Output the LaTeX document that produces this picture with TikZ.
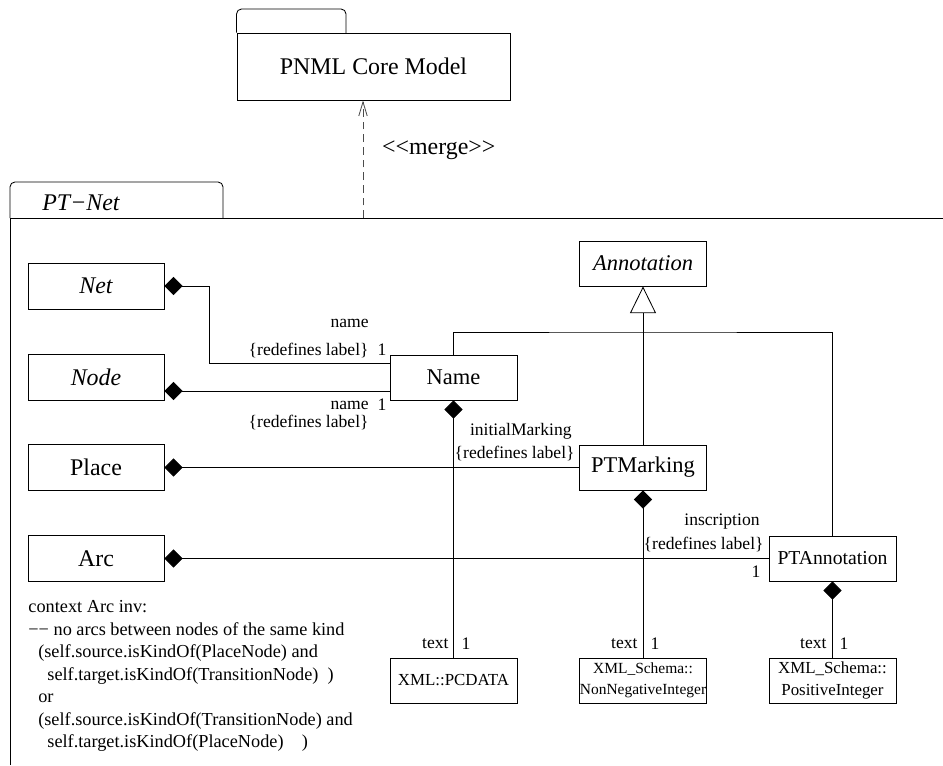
\documentclass[tikz,border=0pt]{standalone}
\usepackage{fontspec}
\setmainfont{Liberation Serif}
\usetikzlibrary{arrows.meta}

\tikzset{
  umlwide/.style={draw, minimum width=3.4cm, minimum height=1.15cm, inner sep=0pt, font=\fontsize{17pt}{20pt}\selectfont},
  umlbox/.style={draw, minimum width=3.175cm, minimum height=1.125cm, inner sep=0pt, font=\fontsize{16pt}{19pt}\selectfont},
  typebox/.style={umlbox, align=center, font=\fontsize{12pt}{15pt}\selectfont},
  role/.style={inner sep=0pt, font=\fontsize{12.5pt}{14pt}\selectfont},
  comp/.style={arrows={Diamond[length=13pt,width=13pt]-}},
  gen/.style={arrows={-Triangle[open,length=19pt,width=18.5pt]}},
}

\begin{document}
\begin{tikzpicture}[x=0.025cm, y=-0.025cm, line width=0.6pt]
\useasboundingbox (0,0) rectangle (943,765);

% imported package
\node (core) at (373.5,66.5) [draw, minimum width=6.825cm, minimum height=1.675cm, font=\fontsize{17pt}{20pt}\selectfont] {PNML Core Model};
\draw [rounded corners=3.5pt] (core.north west) |- (346,9) -- (346,33);

% package PT-Net
\node (ptnet) at (81,203) [font=\fontsize{17pt}{20pt}\selectfont\itshape] {PT−Net};
\draw (10,765) -- (10,218) -- (943,218);
\draw [rounded corners=3.5pt] (10,218) |- (223,182) -- (223,218);

\coordinate (mergefoot) at (363,218);
\draw [dash pattern=on 5.5pt off 3.5pt, black!70, arrows={-Straight Barb[length=10pt,width=6pt]}] (mergefoot) -- (mergefoot |- core.south);
\node (merge) at (377,150) [anchor=west, font=\fontsize{17pt}{20pt}\selectfont] {<\kern0pt<merge>\kern0pt>};

% classes
\node (net) at (96,286) [umlwide, font=\fontsize{17pt}{20pt}\selectfont\itshape] {Net};
\node (nodecls) at (96,377) [umlwide, font=\fontsize{17pt}{20pt}\selectfont\itshape] {Node};
\node (place) at (96,467.5) [umlwide] {Place};
\node (arc) at (96,558.5) [umlwide] {Arc};
\node (name) at (453.5,377.5) [umlbox] {Name};
\node (annotation) at (643,263.5) [umlbox, font=\fontsize{16pt}{19pt}\selectfont\itshape] {Annotation};
\node (ptmarking) at (643,467.5) [umlbox] {PTMarking};
\node (ptannotation) at (832.5,558.5) [umlbox, font=\fontsize{14pt}{17pt}\selectfont] {PTAnnotation};
\node (pcdata) at (453.5,680.5) [typebox] {XML::PCDATA};
\node (nonneg) at (643,680.5) [typebox, font=\fontsize{11pt}{15pt}\selectfont] {XML\_Schema::\\NonNegativeInteger};
\node (posint) at (832.5,680.5) [typebox] {XML\_Schema::\\PositiveInteger};

% generalization
\coordinate (genjoin) at (643,332);
\draw [gen] (ptmarking.north) -- (annotation.south);
\draw (name.north) |- (genjoin) -| (ptannotation.north);

% compositions
\draw [comp] (net.east) -- ++(45,0) |- ([yshift=0.36cm]name.west);
\draw [comp] ([yshift=-0.35cm]nodecls.east) -- ([yshift=-0.35cm]nodecls.east -| name.west);
\draw [comp] (place.east) -- (place.east -| ptmarking.west);
\draw [comp] (arc.east) -- (arc.east -| ptannotation.west);
\draw [comp] (name.south) -- (pcdata.north);
\draw [comp] (ptmarking.south) -- (nonneg.north);
\draw [comp] (ptannotation.south) -- (posint.north);

% role names and multiplicities
\node (netrole) at (369,323) [role, anchor=east] {name};
\node (netredef) at (369,350) [role, anchor=east] {\{redefines label\}};
\node (netmult) at (382,350) [role] {1};
\node (noderole) at (369,405) [role, anchor=east] {name};
\node (nodemult) at (382,405) [role] {1};
\node (noderedef) at (369,422) [role, anchor=east] {\{redefines label\}};
\node (placerole) at (572,431) [role, anchor=east] {initialMarking};
\node (placeredef) at (575,453) [role, anchor=east] {\{redefines label\}};
\node (arcrole) at (760,522) [role, anchor=east] {inscription};
\node (arcredef) at (764,544) [role, anchor=east] {\{redefines label\}};
\node (arcmult) at (756,572) [role] {1};
\node (pcrole) at (449,644) [role, anchor=east] {text};
\node (pcmult) at (466,644) [role] {1};
\node (nnrole) at (638,644) [role, anchor=east] {text};
\node (nnmult) at (655,644) [role] {1};
\node (pirole) at (827,644) [role, anchor=east] {text};
\node (pimult) at (844,644) [role] {1};

% OCL constraint
\node (ocl) at (28,600) [anchor=north west, inner sep=0pt, align=left, font=\fontsize{13pt}{16pt}\selectfont] {context Arc inv:\\
−− no arcs between nodes of the same kind\\
\hspace*{7pt}(self.source.isKindOf(PlaceNode) and\\
\hspace*{13.5pt}self.target.isKindOf(TransitionNode)\ \ )\\
\hspace*{7pt}or\\
\hspace*{7pt}(self.source.isKindOf(TransitionNode) and\\
\hspace*{13.5pt}self.target.isKindOf(PlaceNode)\ \ \ \ )};
\end{tikzpicture}
\end{document}
